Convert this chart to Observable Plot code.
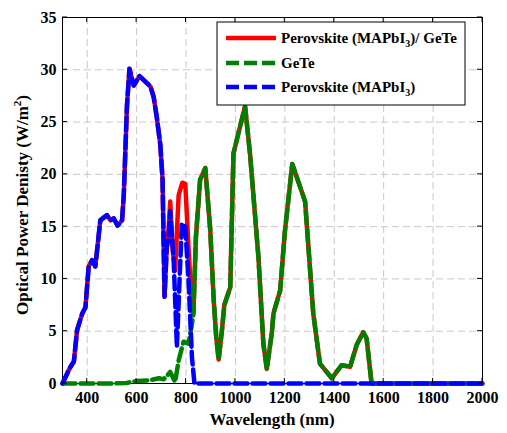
<!DOCTYPE html>
<html><head><meta charset="utf-8">
<script src="https://cdn.jsdelivr.net/npm/d3@7"></script>
<script src="https://cdn.jsdelivr.net/npm/@observablehq/plot@0.6"></script>
<style>
body{margin:0;background:#fff}
svg{font-family:"Liberation Serif","Times New Roman",serif}
</style>
</head><body><div id="chart"></div>
<script>
const xTicks = [400, 600, 800, 1000, 1200, 1400, 1600, 1800, 2000];
const yTicks = [0, 5, 10, 15, 20, 25, 30, 35];

// Perovskite (MAPbI3)
const blueWl = [300,330,346,359,380,393,406,420,433,453,480,494,507,523,541,548,561,571,588,612,656,669,682,696,705,713,722,730,736,742,750,763,783,797,810,824,834,2000];
const blueVal = [0,1.5,2.1,5.1,6.7,7.3,11.2,11.8,11.2,15.6,16.1,15.6,15.8,15.1,15.6,18.0,26.6,30.1,28.5,29.4,28.4,27.4,25.4,22.8,19.5,8.3,13.0,14.0,16.5,14.5,11.8,3.5,15.3,15.0,9.9,2.5,0,0];

// GeTe
const greenWl = [300,500,560,600,650,690,710,725,736,756,770,790,810,824,830,840,857,878,898,912,922,932,945,955,979,992,1019,1039,1060,1093,1113,1127,1147,1154,1181,1200,1230,1282,1315,1342,1390,1430,1464,1491,1517,1531,1551,2000];
const greenVal = [0,0,0.05,0.25,0.3,0.5,0.4,0.8,1.1,0.15,2.2,4.0,3.8,5.7,6.7,14.0,19.5,20.6,14.7,8.0,4.5,2.3,5.0,7.5,9.2,22.0,24.6,26.5,21.7,12.1,3.8,1.4,4.8,6.7,8.9,14.5,21.0,17.4,6.7,1.9,0.5,1.75,1.6,3.7,4.9,4.3,0,0];

// Perovskite (MAPbI3)/ GeTe
const redWl = [300,330,346,359,380,393,406,420,433,453,480,494,507,523,541,548,561,571,588,612,656,669,682,696,705,713,722,730,736,745,756,770,785,797,810,824,830,840,857,878,898,912,922,932,945,955,979,992,1019,1039,1060,1093,1113,1127,1147,1154,1181,1200,1230,1282,1315,1342,1390,1430,1464,1491,1517,1531,1551,2000];
const redVal = [0,1.5,2.1,5.1,6.7,7.3,11.2,11.8,11.2,15.6,16.1,15.6,15.8,15.1,15.6,18.0,26.6,30.1,28.5,29.4,28.4,27.4,25.4,22.8,19.5,8.3,13.0,15.0,17.4,13.0,10.8,18.0,19.2,19.1,13.0,7.0,6.7,14.0,19.5,20.6,14.7,8.0,4.5,2.3,5.0,7.5,9.2,22.0,24.6,26.5,21.7,12.1,3.8,1.4,4.8,6.7,8.9,14.5,21.0,17.4,6.7,1.9,0.5,1.75,1.6,3.7,4.9,4.3,0,0];

const seriesNames = ["Perovskite (MAPbI", "GeTe", "Perovskite (MAPbI"];

const toRows = (xs, ys) => xs.map((x, i) => ({x, y: ys[i]}));
const red = toRows(redWl, redVal);
const green = toRows(greenWl, greenVal);
const blue = toRows(blueWl, blueVal);

const plot = Plot.plot({
  width: 507, height: 433,
  marginLeft: 62, marginRight: 25, marginTop: 17, marginBottom: 50,
  x: {domain: [300, 2000]},
  y: {domain: [0, 35]},
  style: {fontFamily: "'Liberation Serif', serif", fontWeight: "bold", fontSize: "16px", background: "white", color: "black", overflow: "visible"},
  marks: [
    Plot.gridX(xTicks, {stroke: "#c8c8c8", strokeOpacity: 1, strokeDasharray: "7,4"}),
    Plot.gridY(yTicks, {stroke: "#c8c8c8", strokeOpacity: 1, strokeDasharray: "7,4"}),
    Plot.frame({stroke: "black", strokeWidth: 1}),
    Plot.axisX(xTicks, {tickSize: 0, tickPadding: 8, label: null, fontSize: 16, fontWeight: "bold", tickFormat: d => String(d)}),
    Plot.axisY(yTicks, {tickSize: 0, tickPadding: 6, label: null, fontSize: 16, fontWeight: "bold", tickFormat: d => String(d)}),
    Plot.line(red, {x: "x", y: "y", stroke: "#ff0000", strokeWidth: 4.5, strokeLinejoin: "round"}),
    Plot.line(green, {x: "x", y: "y", stroke: "#008000", strokeWidth: 4.5, strokeDasharray: "13,5", strokeLinejoin: "round"}),
    Plot.line(blue, {x: "x", y: "y", stroke: "#0000ff", strokeWidth: 4.5, strokeDasharray: "13,5", strokeLinejoin: "round"})
  ]
});
document.getElementById("chart").appendChild(plot);

const sx = plot.scale("x"), sy = plot.scale("y");
const svg = d3.select(plot);
const x0 = sx.apply(300), x1 = sx.apply(2000), y0 = sy.apply(0), y1 = sy.apply(35);
const tk = 5;
const g = svg.append("g").attr("stroke", "black").attr("stroke-width", 1);
xTicks.forEach(v => {
  const px = sx.apply(v);
  g.append("line").attr("x1", px).attr("x2", px).attr("y1", y0).attr("y2", y0 - tk);
  g.append("line").attr("x1", px).attr("x2", px).attr("y1", y1).attr("y2", y1 + tk);
});
yTicks.forEach(v => {
  const py = sy.apply(v);
  g.append("line").attr("x1", x0).attr("x2", x0 + tk).attr("y1", py).attr("y2", py);
  g.append("line").attr("x1", x1).attr("x2", x1 - tk).attr("y1", py).attr("y2", py);
});

// axis labels
svg.append("text").attr("x", (x0 + x1) / 2).attr("y", 425).attr("text-anchor", "middle")
  .attr("font-size", 17).attr("font-weight", "bold").attr("fill", "black").text("Wavelength (nm)");
const yl = svg.append("text").attr("transform", `translate(28,${(y0 + y1) / 2 + 5}) rotate(-90)`)
  .attr("text-anchor", "middle").attr("font-size", 17).attr("font-weight", "bold").attr("fill", "black");
yl.append("tspan").text("Optical Power Denisty (W/m");
yl.append("tspan").attr("font-size", 11).attr("dy", -7).text("2");
yl.append("tspan").attr("dy", 7).text(")");

// legend
const lg = svg.append("g").attr("text-anchor", "start");
lg.append("rect").attr("x", 217).attr("y", 22).attr("width", 248).attr("height", 83)
  .attr("fill", "white").attr("stroke", "black").attr("stroke-width", 1);
const entries = [
  {color: "#ff0000", dash: null, y: 38, parts: [seriesNames[0], "3", ")/ GeTe"]},
  {color: "#008000", dash: "13,5", y: 63, parts: [seriesNames[1]]},
  {color: "#0000ff", dash: "13,5", y: 87, parts: [seriesNames[2], "3", ")"]}
];
entries.forEach(e => {
  const ln = lg.append("line").attr("x1", 226).attr("x2", 276).attr("y1", e.y).attr("y2", e.y)
    .attr("stroke", e.color).attr("stroke-width", 4.5);
  if (e.dash) ln.attr("stroke-dasharray", e.dash);
  const t = lg.append("text").attr("x", 281).attr("y", e.y + 5).attr("font-size", 15)
    .attr("text-anchor", "start").attr("font-weight", "bold").attr("fill", "black");
  t.append("tspan").text(e.parts[0]);
  if (e.parts.length > 1) {
    t.append("tspan").attr("font-size", 10).attr("dy", 4).text(e.parts[1]);
    t.append("tspan").attr("dy", -4).text(e.parts[2]);
  }
});
</script>
</body></html>
